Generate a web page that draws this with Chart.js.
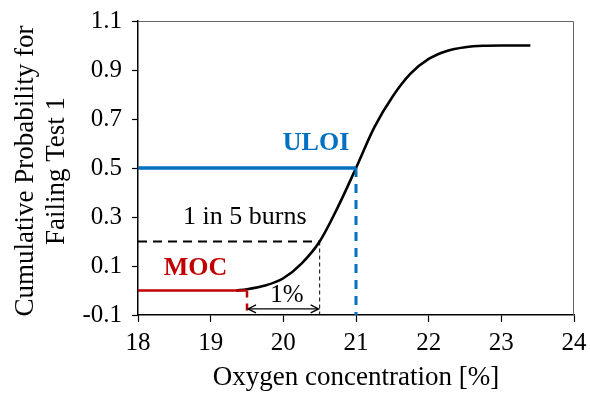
<!DOCTYPE html>
<html>
<head>
<meta charset="utf-8">
<script src="https://cdn.jsdelivr.net/npm/chart.js@4"></script>
<style>
  html, body { margin: 0; padding: 0; background: #fff; }
  #wrap { width: 590px; height: 394px; }
</style>
</head>
<body>
<div id="wrap"><canvas id="probChart" width="590" height="394"></canvas></div>
<script>
// Data
const oxygen = [19.35, 19.5, 19.75, 20.0, 20.25, 20.5, 20.75, 21.0, 21.25, 21.5, 21.75, 22.0, 22.25, 22.5, 22.75, 23.0, 23.4];
const probability = [0.0, 0.005, 0.02, 0.05, 0.11, 0.2, 0.34, 0.5, 0.665, 0.79, 0.885, 0.945, 0.978, 0.993, 0.999, 1.0, 1.0];

const xTicks = [18, 19, 20, 21, 22, 23, 24];
const yLabels = ['-0.1', '0.1', '0.3', '0.5', '0.7', '0.9', '1.1'];

// Reference levels
const xStart = 18;
const yFloor = -0.1;
const uloi = { x: 21, p: 0.5 };
const moc = { x: 19.5, p: 0 };
const burns = { x: 20.5, p: 0.2 };
const arrowP = -0.075;

const FONT = "'Liberation Serif', 'Times New Roman', serif";
const BLUE = '#0070C0';
const RED = '#C00000';

const pts = (xs, ys) => xs.map((x, i) => ({ x: x, y: ys[i] }));

function lineSet(data, color, width, dash) {
  return {
    data: data,
    borderColor: color,
    borderWidth: width,
    borderDash: dash || [],
    pointRadius: 0,
    fill: false,
    tension: 0
  };
}

// Frame, titles, annotations, arrow heads
const decorations = {
  id: 'decorations',
  beforeDatasetsDraw(chart) {
    const { ctx, chartArea: a } = chart;
    ctx.save();
    ctx.strokeStyle = '#666';
    ctx.lineWidth = 1;
    ctx.beginPath();
    ctx.moveTo(a.left, a.top + 0.5);
    ctx.lineTo(a.right - 0.5, a.top + 0.5);
    ctx.lineTo(a.right - 0.5, a.bottom);
    ctx.stroke();
    ctx.restore();
  },
  afterDraw(chart) {
    const { ctx, chartArea: a, scales } = chart;
    const x = scales.x, y = scales.y;
    ctx.save();

    // y title
    ctx.fillStyle = '#000';
    ctx.font = '27px ' + FONT;
    ctx.textAlign = 'center';
    ctx.textBaseline = 'middle';
    const cy = (a.top + a.bottom) / 2 + 3;
    ctx.save();
    ctx.translate(26, cy);
    ctx.rotate(-Math.PI / 2);
    ctx.fillText('Cumulative Probability for', 0, 0);
    ctx.restore();
    ctx.save();
    ctx.translate(57, cy);
    ctx.rotate(-Math.PI / 2);
    ctx.fillText('Failing Test 1', 0, 0);
    ctx.restore();

    // x title
    ctx.fillText('Oxygen concentration [%]', (a.left + a.right) / 2, 378);

    // annotations
    ctx.font = 'bold 26px ' + FONT;
    ctx.fillStyle = BLUE;
    ctx.fillText('ULOI', x.getPixelForValue(20.45), y.getPixelForValue(0.6));
    ctx.fillStyle = RED;
    ctx.fillText('MOC', x.getPixelForValue(18.79), y.getPixelForValue(0.09));
    ctx.fillStyle = '#000';
    ctx.font = '26px ' + FONT;
    ctx.fillText('1 in 5 burns', x.getPixelForValue(19.47), y.getPixelForValue(0.3));
    ctx.font = '25px ' + FONT;
    ctx.fillText('1%', x.getPixelForValue(20.05), y.getPixelForValue(-0.02));

    // arrow heads on the 1% span
    const ay = y.getPixelForValue(arrowP);
    const ax1 = x.getPixelForValue(moc.x) + 1;
    const ax2 = x.getPixelForValue(burns.x) - 1;
    ctx.strokeStyle = '#000';
    ctx.lineWidth = 1.3;
    ctx.beginPath();
    ctx.moveTo(ax1 + 8, ay - 4);
    ctx.lineTo(ax1, ay);
    ctx.lineTo(ax1 + 8, ay + 4);
    ctx.moveTo(ax2 - 8, ay - 4);
    ctx.lineTo(ax2, ay);
    ctx.lineTo(ax2 - 8, ay + 4);
    ctx.stroke();
    ctx.restore();
  }
};

const ctx = document.getElementById('probChart').getContext('2d');
new Chart(ctx, {
  type: 'scatter',
  data: {
    datasets: [
      lineSet(pts([xStart, uloi.x], [uloi.p, uloi.p]), BLUE, 3.5),
      lineSet(pts([uloi.x, uloi.x], [uloi.p, yFloor]), BLUE, 3, [9, 7]),
      lineSet(pts([xStart, burns.x], [burns.p, burns.p]), '#000', 2, [9, 6]),
      lineSet(pts([burns.x, burns.x], [burns.p, yFloor]), '#000', 1, [4, 3]),
      lineSet(pts([xStart, moc.x], [moc.p, moc.p]), RED, 2.5),
      lineSet(pts([moc.x, moc.x], [moc.p, yFloor]), RED, 2.5, [7, 6]),
      lineSet(pts([moc.x + 0.02, burns.x - 0.02], [arrowP, arrowP]), '#000', 1.3),
      {
        data: pts(oxygen, probability),
        borderColor: '#000',
        borderWidth: 2.6,
        pointRadius: 0,
        fill: false,
        cubicInterpolationMode: 'monotone'
      }
    ]
  },
  options: {
    responsive: false,
    animation: false,
    showLine: true,
    layout: { padding: { left: 0, top: 21, right: 16, bottom: 0 } },
    plugins: {
      legend: { display: false },
      tooltip: { enabled: false }
    },
    scales: {
      x: {
        type: 'linear',
        min: xTicks[0],
        max: xTicks[xTicks.length - 1],
        afterFit(scale) {
          scale.height = 79;
          scale.paddingLeft = 0;
          scale.paddingRight = 0;
        },
        afterBuildTicks(scale) { scale.ticks = xTicks.map(v => ({ value: v })); },
        border: { color: '#000', width: 1.5 },
        grid: { drawOnChartArea: false, tickLength: 7, color: '#000', tickWidth: 1.2 },
        ticks: {
          color: '#000',
          font: { family: FONT, size: 25 },
          padding: 6,
          maxRotation: 0,
          callback: v => String(v)
        }
      },
      y: {
        type: 'linear',
        min: -0.1,
        max: 1.1,
        afterFit(scale) {
          scale.width = 138;
          scale.paddingTop = 0;
          scale.paddingBottom = 0;
        },
        afterBuildTicks(scale) {
          const t = [];
          for (let i = 0; i <= 12; i++) t.push({ value: Math.round((-0.1 + i * 0.1) * 10) / 10 });
          scale.ticks = t;
        },
        border: { color: '#000', width: 1.5 },
        grid: { drawOnChartArea: false, tickLength: 6, color: '#000', tickWidth: 1.2 },
        ticks: {
          color: '#000',
          font: { family: FONT, size: 25 },
          padding: 10,
          callback: (v, i) => (i % 2 === 0 ? yLabels[i / 2] : '')
        }
      }
    }
  },
  plugins: [decorations]
});
</script>
</body>
</html>
